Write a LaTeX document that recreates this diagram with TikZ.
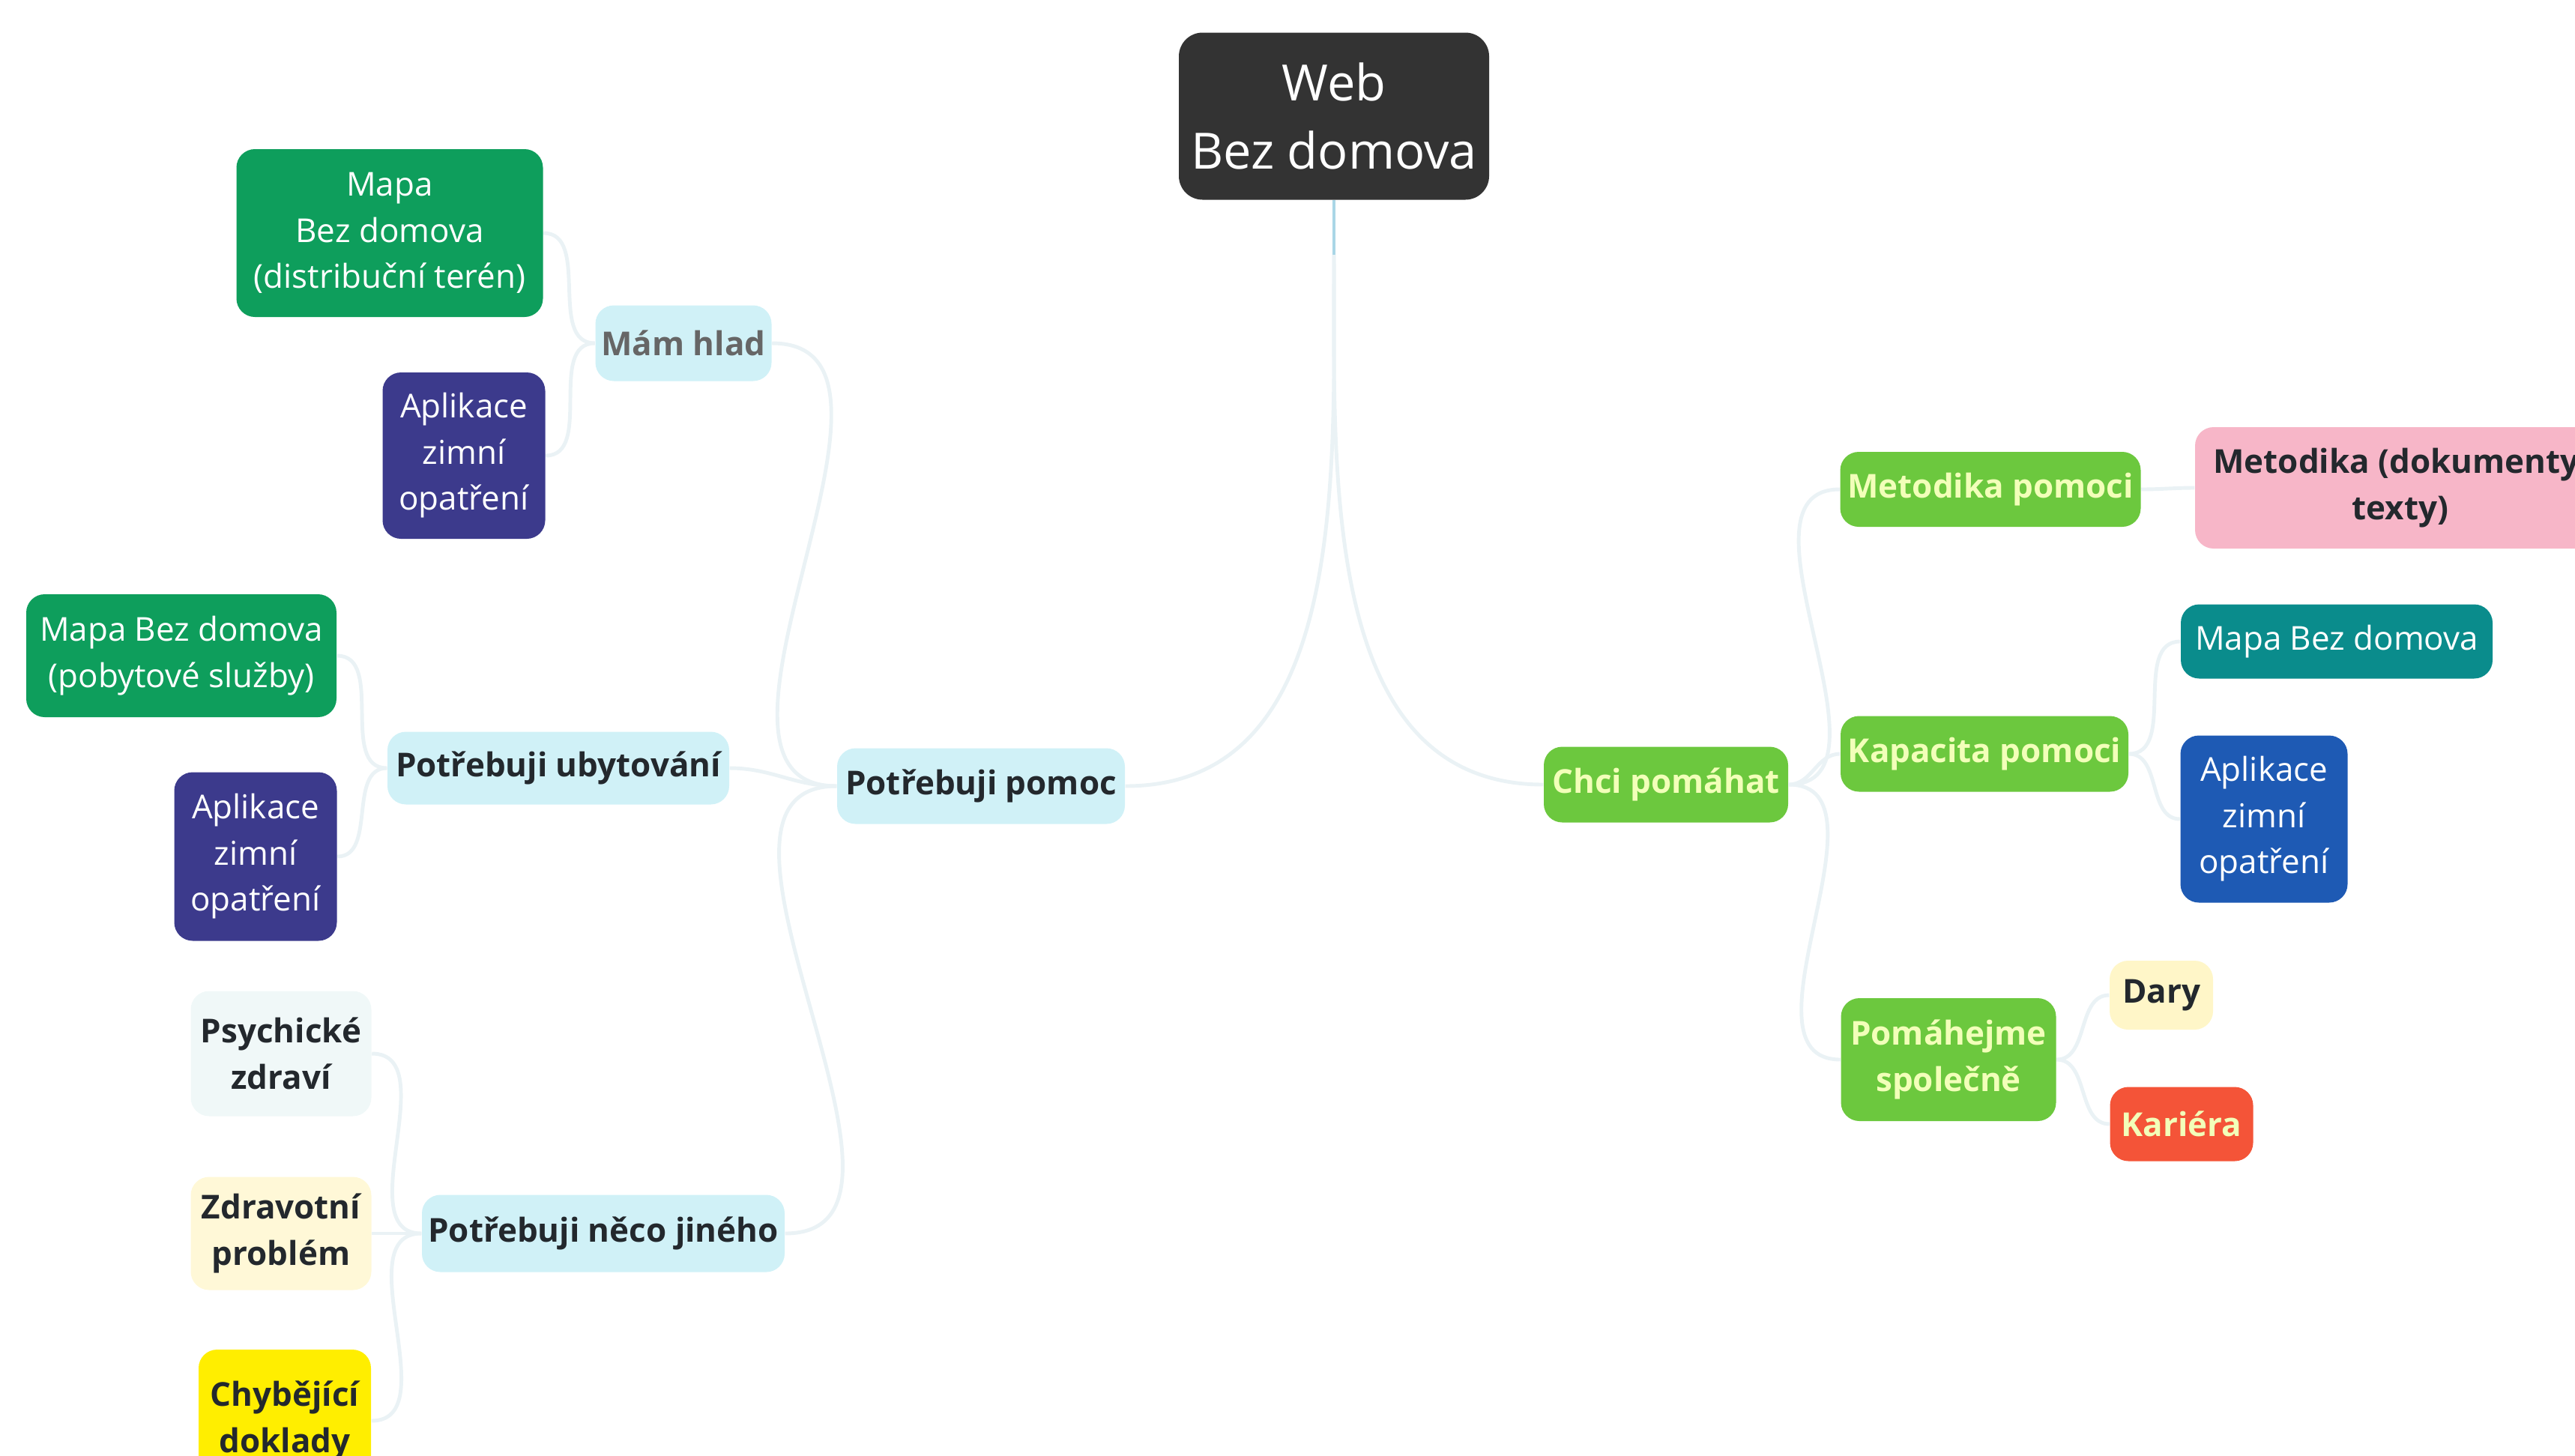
\documentclass[tikz,border=0pt]{standalone}
\usepackage{fontspec}
\setmainfont{Open Sans}
\usetikzlibrary{positioning}

\definecolor{rootc}{RGB}{51,51,51}
\definecolor{mapgreen}{RGB}{14,158,92}
\definecolor{indigo}{RGB}{60,58,140}
\definecolor{skyc}{RGB}{208,241,247}
\definecolor{paleC}{RGB}{240,248,248}
\definecolor{paleY}{RGB}{255,248,215}
\definecolor{docY}{RGB}{255,238,0}
\definecolor{limeC}{RGB}{108,200,62}
\definecolor{limeT}{RGB}{242,255,185}
\definecolor{pinkC}{RGB}{247,182,200}
\definecolor{tealC}{RGB}{10,140,140}
\definecolor{blueC}{RGB}{30,90,180}
\definecolor{daryC}{RGB}{255,246,200}
\definecolor{redC}{RGB}{244,84,56}
\definecolor{inkC}{RGB}{35,40,45}
\definecolor{linkC}{RGB}{234,242,245}
\definecolor{rootlinkC}{RGB}{170,214,230}

\tikzset{
    box/.style={rounded corners=7pt, align=center, inner sep=1pt,
        font=\fontsize{12.5}{17.5}\selectfont},
    sz/.style 2 args={minimum width=#1cm, minimum height=#2cm},
    colbox/.style={box, fill=#1, text=white},
    inkbox/.style={box, fill=#1, text=inkC, font=\bfseries\fontsize{12.5}{17.5}\selectfont},
    limebox/.style={box, fill=limeC, text=limeT, font=\bfseries\fontsize{12.5}{17.5}\selectfont},
    link/.style={draw=linkC, line width=1.4pt}
}

\begin{document}
\begin{tikzpicture}
    \useasboundingbox (0,0) rectangle (34.36,-19.42);

    % connectors (drawn first, boxes go on top)
    \coordinate (rootfoot) at (17.80,-3.40);
    \coordinate (helpC) at (13.09,-10.49);
    \coordinate (giveC) at (22.23,-10.47);

    % root
    \node[box, fill=rootc, text=white, sz={4.14}{2.23}, rounded corners=9pt,
        font=\fontsize{19}{26}\selectfont] (root) at (17.80,-1.55) {Web\\Bez domova};

    % left branch
    \node[inkbox=skyc, sz={3.84}{1.01}] (help) at (helpC) {Potřebuji pomoc};
    \node[inkbox=skyc, sz={2.35}{1.01}, text=black!60] (food) at (9.12,-4.58) {Mám hlad};
    \node[inkbox=skyc, sz={4.56}{0.97}] (stay) at (7.45,-10.25) {Potřebuji ubytování};
    \node[inkbox=skyc, sz={4.84}{1.03}] (other) at (8.05,-16.46) {Potřebuji něco jiného};

    \node[colbox=mapgreen, sz={4.09}{2.24}] (mapD) at (5.20,-3.11) {Mapa\\Bez domova\\(distribuční terén)};
    \node[colbox=indigo, sz={2.17}{2.22}] (appA) at (6.19,-6.08) {Aplikace\\zimní\\opatření};
    \node[colbox=mapgreen, sz={4.14}{1.64}] (mapP) at (2.42,-8.75) {Mapa Bez domova\\(pobytové služby)};
    \node[colbox=indigo, sz={2.17}{2.25}] (appB) at (3.41,-11.43) {Aplikace\\zimní\\opatření};
    \node[inkbox=paleC, sz={2.41}{1.67}] (mind) at (3.75,-14.06) {Psychické\\zdraví};
    \node[inkbox=paleY, sz={2.41}{1.51}] (health) at (3.75,-16.46) {Zdravotní\\problém};
    \node[inkbox=docY, sz={2.30}{1.90}] (docs) at (3.80,-18.96) {Chybějící\\doklady};

    % right branch
    \node[limebox, sz={3.26}{1.01}] (give) at (giveC) {Chci pomáhat};
    \node[limebox, sz={4.01}{1.00}] (method) at (26.56,-6.53) {Metodika pomoci};
    \node[limebox, sz={3.84}{1.01}] (capac) at (26.48,-10.06) {Kapacita pomoci};
    \node[limebox, sz={2.87}{1.64}] (together) at (26.00,-14.14) {Pomáhejme\\společně};

    \node[inkbox=pinkC, sz={5.48}{1.62}] (docsM) at (32.03,-6.51) {Metodika (dokumenty,\\texty)};
    \node[colbox=tealC, sz={4.16}{0.99}] (mapT) at (31.18,-8.56) {Mapa Bez domova};
    \node[colbox=blueC, sz={2.23}{2.23}] (appC) at (30.21,-10.93) {Aplikace\\zimní\\opatření};
    \node[inkbox=daryC, sz={1.38}{0.92}] (gifts) at (28.84,-13.28) {Dary};
    \node[box, fill=redC, text=limeT, sz={1.91}{0.99},
        font=\bfseries\fontsize{12.5}{17.5}\selectfont] (career) at (29.11,-15.00) {Kariéra};

    % links
    \draw[link] (rootfoot) to[out=-90, in=0] (help.east);
    \draw[link] (rootfoot) to[out=-90, in=180] (give.west);
    \draw[line width=1.4pt, draw=rootlinkC] (root.south) -- (rootfoot);
    \foreach \n in {food, stay, other}
        \draw[link] (help.west) to[out=180, in=0] (\n.east);
    \foreach \n in {mapD, appA}
        \draw[link] (food.west) to[out=180, in=0] (\n.east);
    \foreach \n in {mapP, appB}
        \draw[link] (stay.west) to[out=180, in=0] (\n.east);
    \foreach \n in {mind, health, docs}
        \draw[link] (other.west) to[out=180, in=0] (\n.east);
    \foreach \n in {method, capac, together}
        \draw[link] (give.east) to[out=0, in=180] (\n.west);
    \draw[link] (method.east) to[out=0, in=180] (docsM.west);
    \foreach \n in {mapT, appC}
        \draw[link] (capac.east) to[out=0, in=180] (\n.west);
    \foreach \n in {gifts, career}
        \draw[link] (together.east) to[out=0, in=180] (\n.west);
\end{tikzpicture}
\end{document}
